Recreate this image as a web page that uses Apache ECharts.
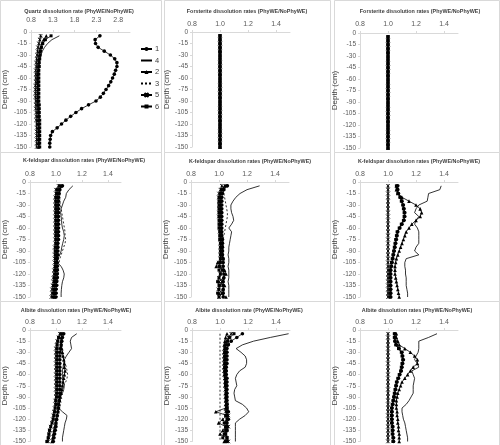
<!DOCTYPE html>
<html><head><meta charset="utf-8">
<script src="https://cdn.jsdelivr.net/npm/echarts@6/dist/echarts.min.js"></script>
<style>html,body{margin:0;padding:0;background:#fff}#c{width:500px;height:445px}</style>
</head><body><div id="c"></div>
<script>
// ---------------- DATA ----------------
const depth = [-5,-10,-15,-20,-25,-30,-35,-40,-45,-50,-55,-60,-65,-70,-75,-80,-85,-90,-95,-100,-105,-110,-115,-120,-125,-130,-135,-140,-145,-150];
const seriesNames = ['1','4','2','3','5','6'];
const depthTicks = [0,-15,-30,-45,-60,-75,-90,-105,-120,-135,-150];

// Quartz (top-left)
const quartz1 = [2.38,2.27,2.28,2.34,2.48,2.62,2.72,2.77,2.77,2.74,2.71,2.67,2.63,2.58,2.52,2.46,2.39,2.29,2.12,1.96,1.83,1.71,1.60,1.50,1.40,1.29,1.25,1.24,1.23,1.23];
const quartz4 = [1.45,1.28,1.18,1.11,1.06,1.03,1.01,0.99,0.98,0.97,0.97,0.96,0.96,0.96,0.96,0.96,0.96,0.96,0.97,0.97,0.97,0.98,0.98,0.98,0.98,0.98,0.98,0.98,0.98,0.98];
const quartz2 = [1.15,1.09,1.05,1.02,1.00,0.99,0.98,0.97,0.96,0.96,0.95,0.95,0.95,0.95,0.95,0.95,0.95,0.95,0.95,0.96,0.96,0.96,0.96,0.96,0.97,0.97,0.97,0.97,0.97,0.97];
const quartz3 = [1.05,1.02,1.00,0.98,0.97,0.96,0.95,0.94,0.94,0.93,0.93,0.93,0.93,0.93,0.93,0.93,0.93,0.93,0.93,0.94,0.94,0.94,0.94,0.94,0.95,0.95,0.95,0.95,0.95,0.95];
const quartz5 = [1.02,1.00,0.98,0.96,0.95,0.94,0.93,0.92,0.92,0.91,0.91,0.91,0.91,0.90,0.90,0.90,0.90,0.91,0.91,0.91,0.92,0.92,0.92,0.93,0.93,0.93,0.93,0.93,0.93,0.93];
const quartz6 = [1.26,1.13,1.07,1.04,1.02,1.01,1.00,0.99,0.99,0.98,0.98,0.98,0.98,0.98,0.98,0.98,0.98,0.98,0.99,0.99,0.99,0.99,1.00,1.00,1.00,1.00,1.00,1.00,1.00,1.00];

// Forsterite (top-middle)
const forsteriteMid1 = [1,1,1,1,1,1,1,1,1,1,1,1,1,1,1,1,1,1,1,1,1,1,1,1,1,1,1,1,1,1];
const forsteriteMid4 = [1,1,1,1,1,1,1,1,1,1,1,1,1,1,1,1,1,1,1,1,1,1,1,1,1,1,1,1,1,1];
const forsteriteMid2 = [1,1,1,1,1,1,1,1,1,1,1,1,1,1,1,1,1,1,1,1,1,1,1,1,1,1,1,1,1,1];
const forsteriteMid3 = [1,1,1,1,1,1,1,1,1,1,1,1,1,1,1,1,1,1,1,1,1,1,1,1,1,1,1,1,1,1];
const forsteriteMid5 = [1,1,1,1,1,1,1,1,1,1,1,1,1,1,1,1,1,1,1,1,1,1,1,1,1,1,1,1,1,1];
const forsteriteMid6 = [1,1,1,1,1,1,1,1,1,1,1,1,1,1,1,1,1,1,1,1,1,1,1,1,1,1,1,1,1,1];
// Forsterite (top-right)
const forsteriteRight1 = [1,1,1,1,1,1,1,1,1,1,1,1,1,1,1,1,1,1,1,1,1,1,1,1,1,1,1,1,1,1];
const forsteriteRight4 = [1,1,1,1,1,1,1,1,1,1,1,1,1,1,1,1,1,1,1,1,1,1,1,1,1,1,1,1,1,1];
const forsteriteRight2 = [1,1,1,1,1,1,1,1,1,1,1,1,1,1,1,1,1,1,1,1,1,1,1,1,1,1,1,1,1,1];
const forsteriteRight3 = [1,1,1,1,1,1,1,1,1,1,1,1,1,1,1,1,1,1,1,1,1,1,1,1,1,1,1,1,1,1];
const forsteriteRight5 = [1,1,1,1,1,1,1,1,1,1,1,1,1,1,1,1,1,1,1,1,1,1,1,1,1,1,1,1,1,1];
const forsteriteRight6 = [1,1,1,1,1,1,1,1,1,1,1,1,1,1,1,1,1,1,1,1,1,1,1,1,1,1,1,1,1,1];

// K-feldspar (middle-left)
const kfeldLeft1 = [1.05,1.03,1.025,1.02,1.02,1.02,1.02,1.02,1.02,1.02,1.02,1.02,1.02,1.02,1.02,1.015,1.015,1.015,1.015,1.01,1.01,1.01,1.01,1.01,1.01,1.005,1.005,1.00,1.00,1.00];
const kfeldLeft4 = [1.13,1.10,1.08,1.075,1.06,1.05,1.04,1.036,1.04,1.043,1.045,1.05,1.06,1.064,1.06,1.052,1.045,1.04,1.03,1.015,1.01,1.04,1.055,1.064,1.06,1.05,1.045,1.042,1.04,1.04];
const kfeldLeft2 = [1.04,1.02,1.015,1.01,1.01,1.01,1.01,1.01,1.01,1.01,1.01,1.01,1.01,1.01,1.01,1.01,1.01,1.005,1.005,1.005,1.005,1.00,1.00,1.00,1.00,0.995,0.995,0.99,0.99,0.99];
const kfeldLeft3 = [1.04,1.035,1.03,1.03,1.03,1.035,1.04,1.045,1.05,1.055,1.06,1.065,1.07,1.07,1.075,1.07,1.06,1.05,1.04,1.03,1.025,1.02,1.02,1.02,1.02,1.015,1.015,1.01,1.01,1.01];
const kfeldLeft5 = [1.02,1.00,1.00,0.995,0.995,0.995,0.995,0.995,0.995,0.995,0.995,0.995,0.995,0.995,0.995,0.995,0.99,0.99,0.99,0.99,0.99,0.99,0.985,0.985,0.98,0.98,0.975,0.97,0.97,0.965];
const kfeldLeft6 = [1.03,1.01,1.005,1.00,1.00,1.00,1.00,1.00,1.00,1.00,1.00,1.00,1.00,1.00,1.00,1.00,1.00,1.00,1.00,1.00,1.00,0.995,0.995,0.995,0.99,0.99,0.985,0.985,0.98,0.98];

// K-feldspar (center)
const kfeldMid1 = [1.06,1.035,1.025,1.02,1.02,1.02,1.02,1.02,1.02,1.02,1.02,1.02,1.02,1.02,1.025,1.025,1.025,1.025,1.025,1.03,1.03,1.03,1.03,1.035,1.035,1.03,1.03,1.03,1.03,1.03];
const kfeldMid4 = [1.29,1.20,1.15,1.12,1.10,1.085,1.085,1.09,1.10,1.105,1.09,1.07,1.09,1.085,1.08,1.075,1.07,1.07,1.065,1.07,1.07,1.065,1.07,1.07,1.07,1.065,1.07,1.07,1.07,1.07];
const kfeldMid2 = [1.04,1.02,1.01,1.01,1.01,1.01,1.01,1.01,1.01,1.01,1.01,1.015,1.015,1.015,1.015,1.02,1.02,1.02,1.02,1.03,0.99,0.98,1.04,1.05,1.03,1.00,1.04,1.03,1.00,1.05];
const kfeldMid3 = [1.02,1.03,1.035,1.04,1.045,1.05,1.055,1.06,1.06,1.055,1.05,1.045,1.04,1.035,1.03,1.03,1.03,1.03,1.03,1.03,1.03,1.03,1.03,1.03,1.03,1.03,1.03,1.03,1.03,1.03];
const kfeldMid5 = [1.02,1.01,1.00,1.00,1.00,1.00,1.00,1.00,1.00,1.005,1.005,1.005,1.005,1.01,1.01,1.01,1.01,1.01,1.01,1.01,1.00,1.01,1.02,1.01,1.00,1.02,1.01,0.995,1.02,1.00];
const kfeldMid6 = [1.05,1.02,1.01,1.00,1.00,1.00,1.00,1.00,1.00,1.00,1.00,1.00,1.005,1.005,1.005,1.01,1.01,1.01,1.01,1.01,1.01,1.00,1.00,1.01,1.00,0.99,1.00,1.00,0.99,1.00];

// K-feldspar (middle-right)
const kfeldRight1 = [1.07,1.07,1.075,1.09,1.10,1.11,1.115,1.12,1.12,1.115,1.10,1.085,1.07,1.065,1.06,1.055,1.05,1.045,1.04,1.035,1.03,1.025,1.02,1.02,1.02,1.02,1.02,1.02,1.02,1.02];
const kfeldRight4 = [1.38,1.37,1.29,1.285,1.28,1.22,1.20,1.19,1.22,1.20,1.19,1.21,1.22,1.22,1.22,1.22,1.20,1.19,1.22,1.13,1.12,1.12,1.125,1.125,1.13,1.13,1.13,1.135,1.14,1.14];
const kfeldRight2 = [1.06,1.06,1.07,1.10,1.15,1.20,1.23,1.24,1.23,1.20,1.17,1.15,1.13,1.12,1.11,1.10,1.09,1.08,1.07,1.06,1.055,1.05,1.05,1.05,1.055,1.06,1.065,1.07,1.075,1.08];
const kfeldRight3 = [1,1,1,1,1,1,1,1,1,1,1,1,1,1,1,1,1,1,1,1,1,1,1,1,1,1,1,1,1,1];
const kfeldRight5 = [1,1,1,1,1,1,1,1,1,1,1,1,1,1,1,1,1,1,1,1,1,1,1,1,1,1,1,1,1,1];
const kfeldRight6 = [1.06,1.065,1.07,1.085,1.095,1.105,1.11,1.115,1.115,1.11,1.095,1.08,1.065,1.06,1.055,1.05,1.045,1.04,1.035,1.03,1.025,1.02,1.015,1.015,1.015,1.015,1.015,1.015,1.015,1.015];

// Albite (bottom-left)
const albiteLeft1 = [1.06,1.05,1.045,1.04,1.035,1.03,1.03,1.03,1.03,1.03,1.03,1.03,1.03,1.03,1.03,1.03,1.03,1.025,1.025,1.02,1.02,1.015,1.01,1.005,1.00,1.00,0.995,0.99,0.985,0.98];
const albiteLeft4 = [1.16,1.12,1.11,1.115,1.12,1.10,1.08,1.065,1.06,1.055,1.05,1.05,1.05,1.055,1.064,1.06,1.05,1.035,1.02,1.00,1.02,1.05,1.085,1.08,1.07,1.065,1.06,1.055,1.05,1.05];
const albiteLeft2 = [1.05,1.04,1.04,1.04,1.045,1.05,1.055,1.06,1.065,1.065,1.07,1.065,1.06,1.055,1.05,1.045,1.04,1.035,1.03,1.025,1.02,1.015,1.01,1.005,1.00,0.99,0.985,0.98,0.975,0.97];
const albiteLeft3 = [1.04,1.04,1.04,1.035,1.035,1.04,1.05,1.06,1.07,1.08,1.085,1.09,1.085,1.075,1.06,1.05,1.04,1.03,1.025,1.02,1.015,1.01,1.005,1.00,0.995,0.99,0.985,0.98,0.975,0.97];
const albiteLeft5 = [1.03,1.02,1.01,1.005,1.00,1.00,1.00,1.00,1.00,1.00,1.00,1.00,1.00,1.00,1.00,1.00,1.00,1.00,0.995,0.995,0.99,0.985,0.98,0.975,0.97,0.96,0.955,0.95,0.945,0.94];
const albiteLeft6 = [1.04,1.02,1.015,1.01,1.01,1.01,1.01,1.01,1.01,1.01,1.01,1.01,1.01,1.01,1.01,1.01,1.01,1.005,1.00,1.00,0.995,0.99,0.985,0.98,0.97,0.96,0.95,0.945,0.94,0.93];

// Albite (bottom-center)
const albiteMid1 = [1.16,1.12,1.08,1.06,1.05,1.05,1.05,1.05,1.05,1.045,1.045,1.045,1.05,1.05,1.05,1.05,1.05,1.05,1.05,1.05,1.05,1.06,1.05,1.06,1.05,1.05,1.05,1.04,1.05,1.05];
const albiteMid4 = [1.49,1.36,1.24,1.16,1.115,1.15,1.18,1.19,1.19,1.18,1.14,1.12,1.11,1.115,1.12,1.105,1.10,1.105,1.11,1.16,1.19,1.205,1.18,1.14,1.11,1.11,1.11,1.11,1.11,1.11];
const albiteMid2 = [1.05,1.04,1.035,1.03,1.03,1.03,1.03,1.03,1.03,1.03,1.03,1.03,1.035,1.035,1.035,1.04,1.04,1.04,1.04,1.04,1.04,0.97,1.05,1.02,0.99,1.04,1.02,1.00,1.05,1.03];
const albiteMid3 = [1,1,1,1,1,1,1,1,1,1,1,1,1,1,1,1,1,1,1,1,1,1,1,1,1,1,1,1,1,1];
const albiteMid5 = [1.08,1.06,1.05,1.04,1.035,1.03,1.03,1.03,1.03,1.03,1.03,1.035,1.035,1.04,1.04,1.04,1.04,1.04,1.045,1.045,1.05,1.04,1.06,1.05,1.04,1.06,1.05,1.04,1.05,1.06];
const albiteMid6 = [1.10,1.07,1.055,1.045,1.04,1.04,1.04,1.04,1.04,1.04,1.04,1.04,1.04,1.04,1.04,1.045,1.045,1.045,1.045,1.05,1.05,1.05,1.04,1.05,1.03,1.04,1.04,1.03,1.02,1.04];

// Albite (bottom-right)
const albiteRight1 = [1.05,1.05,1.05,1.06,1.08,1.10,1.105,1.11,1.105,1.10,1.095,1.085,1.075,1.065,1.06,1.055,1.05,1.045,1.04,1.035,1.03,1.03,1.03,1.03,1.03,1.035,1.035,1.035,1.04,1.04];
const albiteRight4 = [1.35,1.29,1.22,1.22,1.22,1.215,1.20,1.19,1.21,1.22,1.17,1.18,1.19,1.185,1.18,1.18,1.18,1.165,1.15,1.13,1.10,1.10,1.105,1.11,1.12,1.125,1.13,1.135,1.14,1.14];
const albiteRight2 = [1.06,1.06,1.07,1.08,1.12,1.16,1.19,1.21,1.21,1.18,1.16,1.14,1.12,1.10,1.09,1.08,1.07,1.065,1.06,1.06,1.06,1.065,1.065,1.07,1.07,1.075,1.075,1.08,1.08,1.08];
const albiteRight3 = [1,1,1,1,1,1,1,1,1,1,1,1,1,1,1,1,1,1,1,1,1,1,1,1,1,1,1,1,1,1];
const albiteRight5 = [1,1,1,1,1,1,1,1,1,1,1,1,1,1,1,1,1,1,1,1,1,1,1,1,1,1,1,1,1,1];
const albiteRight6 = [1.045,1.045,1.05,1.055,1.075,1.095,1.10,1.105,1.10,1.095,1.09,1.08,1.07,1.06,1.055,1.05,1.045,1.04,1.035,1.03,1.025,1.025,1.025,1.025,1.025,1.03,1.03,1.03,1.035,1.035];

const panelTitles = [
  'Quartz dissolution rate (PhyWE/NoPhyWE)',
  'Forsterite dissolution rates (PhyWE/NoPhyWE)',
  'Forsterite dissolution rates (PhyWE/NoPhyWE)',
  'K-feldspar dissolution rates (PhyWE/NoPhyWE)',
  'K-feldspar dissolution rates (PhyWE/NoPhyWE)',
  'K-feldspar dissolution rates (PhyWE/NoPhyWE)',
  'Albite dissolution rates (PhyWE/NoPhyWE)',
  'Albite dissolution rate (PhyWE/NoPhyWE)',
  'Albite dissolution rates (PhyWE/NoPhyWE)'
];
const panelSeries = [
  {'1':quartz1,'4':quartz4,'2':quartz2,'3':quartz3,'5':quartz5,'6':quartz6},
  {'1':forsteriteMid1,'4':forsteriteMid4,'2':forsteriteMid2,'3':forsteriteMid3,'5':forsteriteMid5,'6':forsteriteMid6},
  {'1':forsteriteRight1,'4':forsteriteRight4,'2':forsteriteRight2,'3':forsteriteRight3,'5':forsteriteRight5,'6':forsteriteRight6},
  {'1':kfeldLeft1,'4':kfeldLeft4,'2':kfeldLeft2,'3':kfeldLeft3,'5':kfeldLeft5,'6':kfeldLeft6},
  {'1':kfeldMid1,'4':kfeldMid4,'2':kfeldMid2,'3':kfeldMid3,'5':kfeldMid5,'6':kfeldMid6},
  {'1':kfeldRight1,'4':kfeldRight4,'2':kfeldRight2,'3':kfeldRight3,'5':kfeldRight5,'6':kfeldRight6},
  {'1':albiteLeft1,'4':albiteLeft4,'2':albiteLeft2,'3':albiteLeft3,'5':albiteLeft5,'6':albiteLeft6},
  {'1':albiteMid1,'4':albiteMid4,'2':albiteMid2,'3':albiteMid3,'5':albiteMid5,'6':albiteMid6},
  {'1':albiteRight1,'4':albiteRight4,'2':albiteRight2,'3':albiteRight3,'5':albiteRight5,'6':albiteRight6}
];
const xRanges = [[0.8,3.07,0.5],[0.8,1.5,0.2],[0.8,1.5,0.2],[0.8,1.5,0.2],[0.8,1.5,0.2],[0.8,1.5,0.2],[0.8,1.5,0.2],[0.8,1.5,0.2],[0.8,1.5,0.2]];

// ---------------- LAYOUT / STYLE ----------------
const layout = [
  {left:29, top:32, width:101, height:115, tx:79,  ty:12, gap:22, lm:8},
  {left:192,top:32, width:98,  height:115, tx:247, ty:12, gap:19, lm:4},
  {left:360,top:33, width:98,  height:115, tx:420, ty:12, gap:19, lm:5},
  {left:23, top:182,width:98,  height:115, tx:84,  ty:161,gap:18, lm:4},
  {left:191,top:182,width:98,  height:115, tx:250, ty:162,gap:19, lm:4},
  {left:360,top:182,width:98,  height:115, tx:419, ty:162,gap:19, lm:4},
  {left:23, top:330,width:98,  height:116, tx:76,  ty:311,gap:18, lm:4},
  {left:192,top:330,width:98,  height:116, tx:249, ty:311,gap:19, lm:4},
  {left:360,top:330,width:98,  height:116, tx:417, ty:311,gap:19, lm:4}
];
const FONT = '"Liberation Sans", Arial, sans-serif';
const styles = {
  '1': {symbol:'circle', size:3.6, type:'solid'},
  '4': {symbol:'none', size:0, type:'solid'},
  '2': {symbol:'triangle', size:3.6, type:'solid'},
  '3': {symbol:'none', size:0, type:[2,2]},
  '5': {symbol:'path://M0 0L10 10M10 0L0 10M5 0L5 10', size:3.5, type:'solid'},
  '6': {symbol:'rect', size:3, type:'solid'}
};

const grids=[], xAxes=[], yAxes=[], series=[], graphics=[];
layout.forEach((L,p)=>{
  grids.push({left:L.left, top:L.top, width:L.width, height:L.height, containLabel:false});
  const xr = xRanges[p];
  xAxes.push({type:'value', gridIndex:p, position:'top', min:xr[0], max:xr[1], interval:xr[2],
    axisLine:{show:true, lineStyle:{color:'#d9d9d9', width:1}},
    axisTick:{show:true, length:2, lineStyle:{color:'#d9d9d9'}},
    splitLine:{show:false},
    axisLabel:{fontSize:7, color:'#595959', fontFamily:FONT, margin:L.lm, showMaxLabel:false,
      formatter:v=>v.toFixed(1)}});
  yAxes.push({type:'value', gridIndex:p, min:depthTicks[depthTicks.length-1], max:depthTicks[0], interval:15,
    axisLine:{show:true, onZero:false, lineStyle:{color:'#d9d9d9', width:1}},
    axisTick:{show:true, length:2, lineStyle:{color:'#d9d9d9'}},
    splitLine:{show:false},
    axisLabel:{fontSize:6.5, color:'#595959', fontFamily:FONT, margin:4},
    name:'Depth (cm)', nameLocation:'middle', nameGap:L.gap,
    nameTextStyle:{fontSize:8, color:'#404040', fontFamily:FONT}});
  seriesNames.forEach(n=>{
    const st = styles[n];
    series.push({type:'line', name:n, xAxisIndex:p, yAxisIndex:p,
      data: panelSeries[p][n].map((v,i)=>[v, depth[i]]),
      symbol:st.symbol, symbolSize:st.size, showSymbol:st.symbol!=='none',
      lineStyle:{color:'#000', width:0.8, type:st.type},
      itemStyle:{color:'#000', borderColor:'#000', borderWidth: n==='5'?0.8:0},
      silent:true, animation:false});
  });
  graphics.push({type:'text', x:L.tx, y:L.ty, silent:true,
    style:{text:panelTitles[p], align:'center', verticalAlign:'middle', fontSize:5.4, fontWeight:'bold', fontFamily:FONT, fill:'#404040'}});
});
// panel frames
[[0.5,161],[164.5,166],[334.5,165]].forEach(c=>{
  [[0.5,152],[152.5,149],[301.5,150]].forEach(r=>{
    graphics.push({type:'rect', silent:true, shape:{x:c[0], y:r[0], width:c[1], height:r[1]},
      style:{fill:null, stroke:'#d9d9d9', lineWidth:1}});
  });
});

const legendItems = seriesNames.map(n => styles[n].symbol === 'none'
  ? {name:n, itemStyle:{opacity:0}} : {name:n});

const chart = echarts.init(document.getElementById('c'), null, {renderer:'canvas', width:500, height:445});
chart.setOption({
  animation:false,
  backgroundColor:'#fff',
  grid:grids, xAxis:xAxes, yAxis:yAxes, series:series,
  legend:{data:legendItems, orient:'vertical', left:140, top:45, itemWidth:11, itemHeight:5, itemGap:3.5,
    padding:0, textStyle:{fontSize:7.5, color:'#404040', fontFamily:FONT, padding:[0,0,0,-2]}},
  graphic:graphics
});
</script></body></html>
